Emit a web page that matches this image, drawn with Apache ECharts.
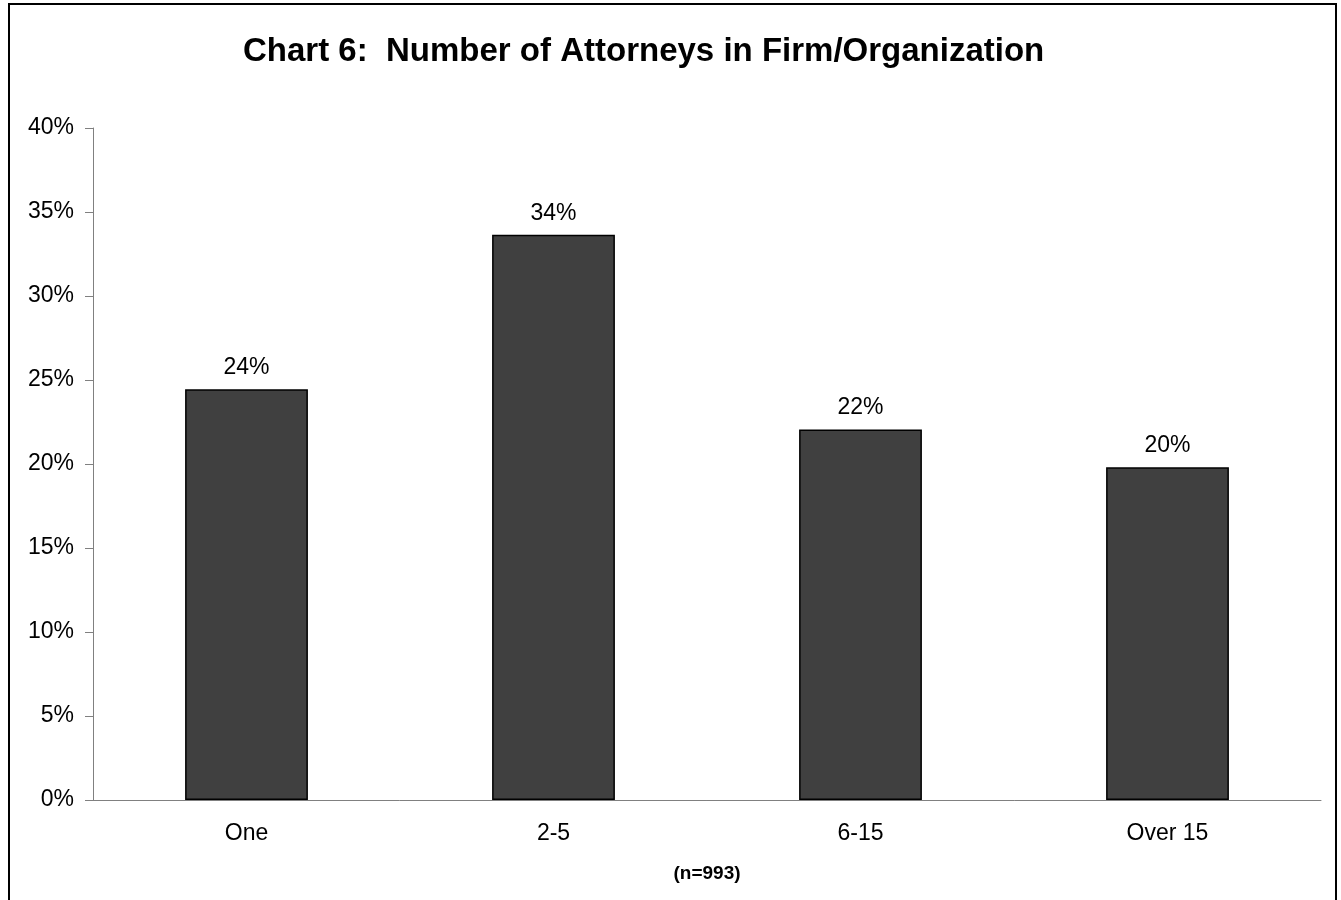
<!DOCTYPE html>
<html>
<head>
<meta charset="utf-8">
<script src="https://cdn.jsdelivr.net/npm/echarts@6/dist/echarts.min.js"></script>
<style>
  html, body { margin: 0; padding: 0; background: #fff; }
  #main { width: 1341px; height: 900px; }
</style>
</head>
<body>
<div id="main"></div>
<script type="text/javascript">
// chart data
var categories = ['One', '2-5', '6-15', 'Over 15'];
var shares = [24.45, 33.65, 22.05, 19.8];
var shareLabels = ['24%', '34%', '22%', '20%'];
var yTicks = [0, 5, 10, 15, 20, 25, 30, 35, 40];

var myChart = echarts.init(document.getElementById('main'));
var font = 'Arial, "Liberation Sans", sans-serif';

var option = {
    animation: false,
    backgroundColor: '#fff',
    title: {
        text: 'Chart 6:  Number of Attorneys in Firm/Organization',
        left: 238,
        top: 30,
        textStyle: { fontFamily: font, fontSize: 33, fontWeight: 'bold', color: '#000' }
    },
    graphic: [{
        type: 'rect',
        shape: { x: 9, y: 4, width: 1327, height: 910 },
        style: { fill: 'none', stroke: '#000', lineWidth: 2 },
        silent: true
    }],
    grid: { left: 93, right: 20, top: 128, bottom: 100 },
    xAxis: {
        type: 'category',
        data: categories,
        name: '(n=993)',
        nameLocation: 'middle',
        nameGap: 64,
        nameTextStyle: { fontFamily: font, fontSize: 19, fontWeight: 'bold', color: '#000' },
        axisLine: { lineStyle: { color: '#808080', width: 1 } },
        axisTick: { alignWithLabel: false, length: 7, lineStyle: { color: '#404040' } },
        axisLabel: { fontFamily: font, fontSize: 23, color: '#000', margin: 22 }
    },
    yAxis: {
        type: 'value',
        min: yTicks[0],
        max: yTicks[yTicks.length - 1],
        interval: 5,
        splitLine: { show: false },
        axisLine: { show: true, lineStyle: { color: '#808080', width: 1 } },
        axisTick: { show: true, length: 8, lineStyle: { color: '#808080' } },
        axisLabel: {
            fontFamily: font, fontSize: 23, color: '#000', margin: 19,
            formatter: function (v) { return v + '%'; }
        }
    },
    series: [{
        type: 'bar',
        data: shares,
        barWidth: '40%',
        itemStyle: { color: '#404040', borderColor: '#000', borderWidth: 1.5 },
        label: {
            show: true,
            position: 'top',
            distance: 10,
            fontFamily: font, fontSize: 23, color: '#000',
            formatter: function (p) { return shareLabels[p.dataIndex]; }
        }
    }]
};
myChart.setOption(option);
</script>
</body>
</html>
